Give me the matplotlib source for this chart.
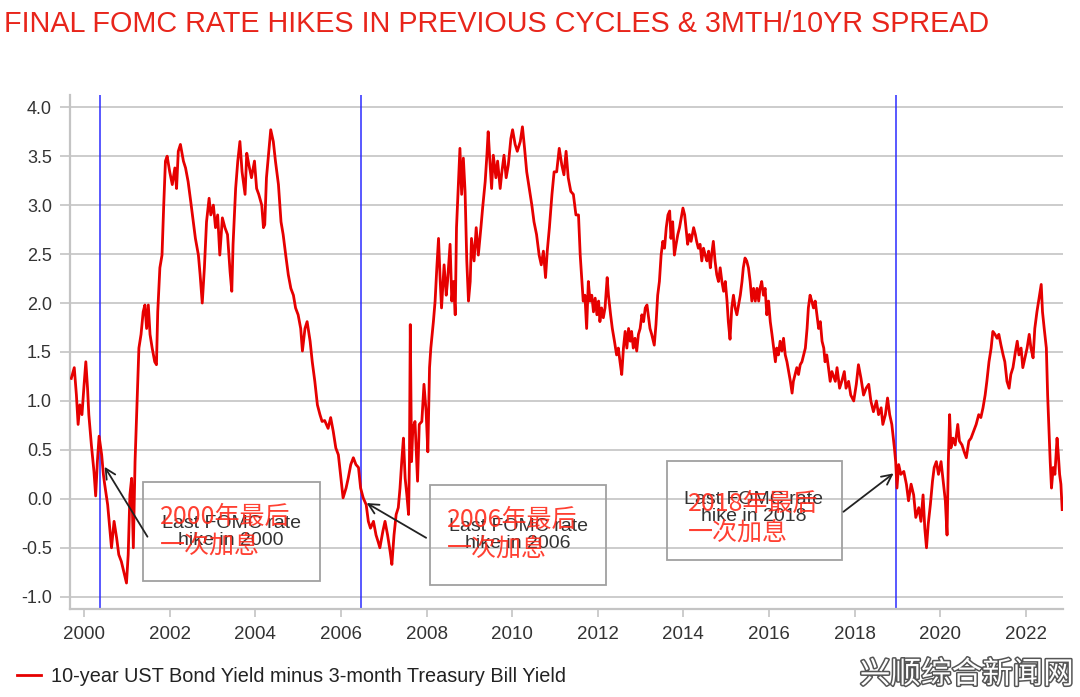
import matplotlib
matplotlib.use("Agg")
import matplotlib.pyplot as plt
import matplotlib.patheffects as pe
from matplotlib.patches import Rectangle
from matplotlib.ticker import FormatStrFormatter

plt.rcParams['font.family'] = ['Liberation Sans', 'DejaVu Sans']

# spread (10y minus 3m); x in decimal years
dates = [
    1999.70, 1999.77, 1999.82, 1999.86, 1999.90, 1999.95, 2000.00, 2000.04, 2000.08, 2000.11,
    2000.17, 2000.23, 2000.27, 2000.31, 2000.35, 2000.41, 2000.45, 2000.48, 2000.55, 2000.60,
    2000.64, 2000.70, 2000.76, 2000.81, 2000.87, 2000.94, 2000.99, 2001.03, 2001.07, 2001.11,
    2001.15, 2001.19, 2001.22, 2001.25, 2001.28, 2001.33, 2001.38, 2001.42, 2001.46, 2001.50,
    2001.54, 2001.59, 2001.65, 2001.69, 2001.72, 2001.77, 2001.82, 2001.86, 2001.90, 2001.94,
    2002.00, 2002.06, 2002.12, 2002.16, 2002.20, 2002.25, 2002.32, 2002.37, 2002.43, 2002.49,
    2002.55, 2002.60, 2002.67, 2002.71, 2002.76, 2002.81, 2002.86, 2002.92, 2002.96, 2003.02,
    2003.07, 2003.12, 2003.17, 2003.23, 2003.29, 2003.35, 2003.41, 2003.45, 2003.48, 2003.54,
    2003.59, 2003.64, 2003.69, 2003.76, 2003.80, 2003.85, 2003.91, 2003.98, 2004.03, 2004.08,
    2004.15, 2004.19, 2004.22, 2004.26, 2004.32, 2004.36, 2004.42, 2004.47, 2004.54, 2004.60,
    2004.65, 2004.71, 2004.77, 2004.83, 2004.89, 2004.94, 2005.00, 2005.06, 2005.10, 2005.16,
    2005.21, 2005.28, 2005.33, 2005.39, 2005.45, 2005.51, 2005.56, 2005.62,
    2005.70, 2005.76, 2005.82, 2005.88, 2005.94, 2005.99, 2006.05, 2006.12, 2006.17, 2006.23,
    2006.29, 2006.35, 2006.41, 2006.46, 2006.52, 2006.59, 2006.64, 2006.69, 2006.76, 2006.82,
    2006.87, 2006.91, 2006.98, 2007.03, 2007.09, 2007.15, 2007.19, 2007.24, 2007.29, 2007.34,
    2007.38, 2007.42, 2007.46, 2007.50, 2007.54, 2007.58, 2007.60, 2007.62, 2007.65, 2007.68,
    2007.73, 2007.79, 2007.83, 2007.89, 2007.94, 2007.99, 2008.03, 2008.07, 2008.10, 2008.16,
    2008.20, 2008.24, 2008.28, 2008.32, 2008.35, 2008.41, 2008.46, 2008.49, 2008.55, 2008.59,
    2008.63, 2008.67, 2008.70, 2008.75, 2008.78, 2008.82, 2008.86, 2008.90, 2008.94, 2008.98,
    2009.02, 2009.05, 2009.11, 2009.16, 2009.21, 2009.27, 2009.31, 2009.37, 2009.41, 2009.44,
    2009.48, 2009.52, 2009.56, 2009.62, 2009.66, 2009.72, 2009.76, 2009.81, 2009.86, 2009.91,
    2009.97, 2010.01, 2010.07, 2010.12, 2010.19, 2010.24, 2010.29, 2010.34, 2010.40, 2010.46,
    2010.51, 2010.57, 2010.63, 2010.68, 2010.73, 2010.78, 2010.82, 2010.87, 2010.93, 2010.98,
    2011.04, 2011.10, 2011.16, 2011.21, 2011.26, 2011.31, 2011.37, 2011.43, 2011.49,
    2011.55, 2011.59, 2011.63, 2011.66, 2011.70, 2011.74, 2011.78, 2011.82, 2011.86, 2011.90,
    2011.94, 2011.98, 2012.02, 2012.05, 2012.09, 2012.13, 2012.17, 2012.22, 2012.25, 2012.30,
    2012.34, 2012.39, 2012.44, 2012.48, 2012.52, 2012.56, 2012.60, 2012.64, 2012.68, 2012.72,
    2012.76, 2012.79, 2012.83, 2012.87, 2012.91, 2012.95, 2012.99, 2013.03, 2013.07, 2013.11,
    2013.15, 2013.18, 2013.22, 2013.26, 2013.32, 2013.36, 2013.40, 2013.44, 2013.48, 2013.52,
    2013.56, 2013.60, 2013.64, 2013.68, 2013.71, 2013.75, 2013.79, 2013.83, 2013.87, 2013.91,
    2013.95, 2013.99, 2014.03, 2014.06, 2014.10, 2014.14, 2014.18, 2014.24, 2014.28, 2014.31,
    2014.35, 2014.39, 2014.43, 2014.47, 2014.51, 2014.55, 2014.59, 2014.63, 2014.66, 2014.70,
    2014.74, 2014.78, 2014.82, 2014.86, 2014.90, 2014.94, 2014.98, 2015.02, 2015.05, 2015.09,
    2015.13, 2015.17, 2015.21, 2015.25, 2015.29, 2015.33, 2015.37, 2015.40, 2015.44, 2015.48,
    2015.52, 2015.56, 2015.60, 2015.64, 2015.68, 2015.72, 2015.76, 2015.79, 2015.83, 2015.87,
    2015.91, 2015.95, 2015.99, 2016.03, 2016.07, 2016.11, 2016.15, 2016.18, 2016.22, 2016.26,
    2016.30, 2016.34, 2016.38, 2016.42, 2016.46, 2016.50, 2016.54, 2016.57, 2016.61, 2016.65,
    2016.69, 2016.73, 2016.77, 2016.81, 2016.85, 2016.89, 2016.92, 2016.96, 2017.00, 2017.04,
    2017.08, 2017.12, 2017.16, 2017.20, 2017.24, 2017.28, 2017.31, 2017.35, 2017.39, 2017.43,
    2017.47, 2017.55, 2017.59, 2017.65, 2017.70, 2017.76, 2017.80, 2017.86, 2017.91, 2017.98,
    2018.04, 2018.09, 2018.15, 2018.21, 2018.27, 2018.33, 2018.38, 2018.44, 2018.51, 2018.56,
    2018.62, 2018.66, 2018.72, 2018.77, 2018.82, 2018.87, 2018.93, 2018.96, 2018.99, 2019.03,
    2019.08, 2019.15, 2019.21, 2019.26, 2019.32, 2019.38, 2019.43, 2019.50, 2019.55, 2019.60,
    2019.64, 2019.68, 2019.72, 2019.77, 2019.82, 2019.86, 2019.91, 2019.96, 2020.02, 2020.07,
    2020.12, 2020.16, 2020.19, 2020.22, 2020.25, 2020.30, 2020.35, 2020.41, 2020.45, 2020.51,
    2020.56, 2020.61, 2020.67, 2020.72, 2020.78, 2020.84, 2020.90, 2020.95, 2021.00, 2021.05,
    2021.09, 2021.14, 2021.19, 2021.23, 2021.28, 2021.33, 2021.37, 2021.42, 2021.47, 2021.51,
    2021.56, 2021.61, 2021.65, 2021.70, 2021.76, 2021.80, 2021.84, 2021.89, 2021.93, 2021.98,
    2022.03, 2022.08, 2022.12, 2022.17, 2022.21, 2022.26, 2022.31, 2022.36, 2022.39, 2022.43,
    2022.48, 2022.51, 2022.54, 2022.57, 2022.60, 2022.64, 2022.68, 2022.73, 2022.76, 2022.79,
    2022.82, 2022.85,
]
spread = [
    1.23, 1.34, 1.06, 0.76, 0.96, 0.86, 1.17, 1.40, 1.13, 0.86,
    0.55, 0.28, 0.03, 0.38, 0.64, 0.45, 0.25, 0.15, -0.06, -0.30,
    -0.50, -0.23, -0.40, -0.57, -0.64, -0.77, -0.86, -0.57, 0.04, 0.21,
    -0.50, 0.38, 0.76, 1.17, 1.54, 1.68, 1.91, 1.98, 1.74, 1.98,
    1.68, 1.54, 1.40, 1.37, 1.91, 2.36, 2.49, 3.00, 3.45, 3.50,
    3.34, 3.21, 3.38, 3.17, 3.55, 3.62, 3.45, 3.38, 3.24, 3.04,
    2.83, 2.66, 2.49, 2.29, 2.00, 2.36, 2.83, 3.07, 2.90, 3.00,
    2.77, 2.90, 2.49, 2.87, 2.77, 2.70, 2.32, 2.12, 2.60, 3.17,
    3.45, 3.65, 3.34, 3.11, 3.53, 3.41, 3.28, 3.45, 3.17, 3.11,
    3.00, 2.77, 2.80, 3.28, 3.58, 3.77, 3.65, 3.45, 3.21, 2.83,
    2.70, 2.49, 2.29, 2.15, 2.08, 1.95, 1.88, 1.74, 1.51, 1.74,
    1.81, 1.61, 1.40, 1.20, 0.96, 0.86, 0.79, 0.80,
    0.72, 0.83, 0.69, 0.52, 0.45, 0.25, 0.01, 0.11, 0.21, 0.35,
    0.42, 0.35, 0.32, 0.11, 0.01, -0.06, -0.23, -0.30, -0.23, -0.37,
    -0.44, -0.50, -0.33, -0.23, -0.37, -0.54, -0.67, -0.37, -0.16, -0.09,
    0.11, 0.38, 0.62, 0.21, 0.04, -0.16, 0.38, 1.78, 0.38, 0.72,
    0.79, 0.18, 0.76, 0.79, 1.17, 0.89, 0.48, 1.34, 1.54, 1.81,
    2.02, 2.36, 2.66, 2.22, 1.95, 2.39, 2.08, 2.22, 2.60, 2.02,
    2.22, 1.88, 2.77, 3.28, 3.58, 3.11, 3.48, 3.14, 2.43, 2.02,
    2.22, 2.66, 2.43, 2.77, 2.49, 2.77, 2.97, 3.24, 3.51, 3.75,
    3.45, 3.17, 3.51, 3.28, 3.45, 3.17, 3.34, 3.51, 3.28, 3.41,
    3.68, 3.77, 3.62, 3.55, 3.65, 3.80, 3.58, 3.34, 3.17, 3.00,
    2.83, 2.70, 2.49, 2.39, 2.53, 2.26, 2.53, 2.77, 3.11, 3.34,
    3.34, 3.58, 3.41, 3.31, 3.55, 3.28, 3.14, 3.11, 2.90,
    2.90, 2.49, 2.22, 2.02, 2.08, 1.74, 2.22, 2.02, 2.08, 1.91,
    2.05, 1.88, 2.02, 1.81, 1.95, 1.85, 1.95, 2.26, 2.08, 1.88,
    1.74, 1.61, 1.47, 1.54, 1.40, 1.27, 1.54, 1.71, 1.54, 1.74,
    1.61, 1.71, 1.54, 1.64, 1.51, 1.68, 1.74, 1.88, 1.81, 1.95,
    1.98, 1.88, 1.74, 1.68, 1.57, 1.78, 2.08, 2.22, 2.49, 2.63,
    2.56, 2.77, 2.90, 2.94, 2.66, 2.83, 2.49, 2.60, 2.70, 2.77,
    2.87, 2.97, 2.90, 2.77, 2.60, 2.70, 2.63, 2.77, 2.70, 2.63,
    2.56, 2.60, 2.43, 2.56, 2.49, 2.43, 2.53, 2.36, 2.49, 2.63,
    2.43, 2.29, 2.22, 2.36, 2.22, 2.12, 2.22, 2.02, 1.81, 1.63,
    1.95, 2.08, 1.95, 1.88, 1.98, 2.08, 2.22, 2.36, 2.46, 2.43,
    2.36, 2.22, 2.02, 2.15, 2.02, 2.15, 2.02, 2.15, 2.22, 2.08,
    2.15, 1.88, 2.02, 1.81, 1.68, 1.54, 1.40, 1.54, 1.47, 1.61,
    1.51, 1.64, 1.47, 1.40, 1.30, 1.20, 1.08, 1.20, 1.27, 1.34,
    1.27, 1.37, 1.40, 1.47, 1.54, 1.74, 1.95, 2.08, 2.02, 1.95,
    2.02, 1.88, 1.74, 1.81, 1.61, 1.54, 1.40, 1.47, 1.34, 1.20,
    1.30, 1.20, 1.34, 1.13, 1.20, 1.30, 1.13, 1.20, 1.06, 1.00,
    1.17, 1.37, 1.23, 1.06, 1.13, 1.17, 1.00, 0.89, 1.00, 0.86,
    0.93, 0.76, 0.86, 1.03, 0.86, 0.76, 0.52, 0.38, 0.11, 0.35,
    0.25, 0.28, 0.15, -0.02, 0.15, 0.04, -0.19, -0.09, -0.23, 0.04,
    -0.30, -0.50, -0.26, -0.06, 0.18, 0.32, 0.38, 0.25, 0.38, 0.18,
    -0.02, -0.37, 0.38, 0.86, 0.52, 0.62, 0.55, 0.76, 0.59, 0.55,
    0.48, 0.42, 0.59, 0.62, 0.69, 0.76, 0.86, 0.83, 0.93, 1.06,
    1.20, 1.40, 1.54, 1.71, 1.68, 1.64, 1.68, 1.57, 1.47, 1.40,
    1.20, 1.13, 1.27, 1.34, 1.51, 1.61, 1.47, 1.54, 1.34, 1.44,
    1.54, 1.68, 1.54, 1.44, 1.74, 1.91, 2.05, 2.19, 1.91, 1.74,
    1.54, 1.06, 0.72, 0.38, 0.11, 0.32, 0.25, 0.62, 0.45, 0.25,
    0.15, -0.11,
]

hike_dates = [2000.38, 2006.46, 2018.96]
hike_years = ['2000', '2006', '2018']
x_ticks = list(range(2000, 2023, 2))
y_ticks = [-1.0, -0.5, 0.0, 0.5, 1.0, 1.5, 2.0, 2.5, 3.0, 3.5, 4.0]

RED = '#e60000'
GRID = '#c4c4c4'

fig = plt.figure(figsize=(10.8, 6.97), dpi=100)
ax = fig.add_axes([0.0648, 0.1263, 0.9195, 0.7374])

line, = ax.plot(dates, spread, color=RED, lw=2.0, zorder=3,
                label='10-year UST Bond Yield minus 3-month Treasury Bill Yield')
for d in hike_dates:
    ax.axvline(d, color='#2b2bff', lw=1.1, zorder=2)

ax.set_xlim(1999.67, 2022.87)
ax.set_ylim(-1.125, 4.125)
ax.set_xticks(x_ticks)
ax.set_xticklabels([str(y) for y in x_ticks])
ax.set_yticks(y_ticks)
ax.yaxis.set_major_formatter(FormatStrFormatter('%.1f'))
ax.grid(axis='y', color=GRID, lw=1.2, zorder=0)
for s in ['top', 'right']:
    ax.spines[s].set_visible(False)
for s in ['left', 'bottom']:
    ax.spines[s].set_color(GRID)
    ax.spines[s].set_linewidth(1.6)
ax.tick_params(axis='y', length=7, width=1.2, color=GRID, pad=6,
               labelsize=13, labelcolor='#333333')
ax.tick_params(axis='x', length=6, width=1.2, color=GRID, pad=6,
               labelsize=13.5, labelcolor='#333333')

# annotation boxes: (left, bottom, right, top), english text centre, chinese text left/centre
boxes = [
    ((2001.365, -0.84, 2005.51, 0.174), (2003.435, -0.339), (2001.77, -0.33)),
    ((2008.08, -0.88, 2012.20, 0.14), (2010.14, -0.37), (2008.48, -0.36)),
    ((2013.62, -0.625, 2017.71, 0.385), (2015.65, -0.094), (2014.11, -0.196)),
]
arrows = [
    ((2001.48, -0.387), (2000.48, 0.327)),
    ((2007.99, -0.398), (2006.60, -0.043)),
    ((2017.74, -0.132), (2018.91, 0.26)),
]
for (b, en, zh), (tail, head), yr in zip(boxes, arrows, hike_years):
    ax.add_patch(Rectangle((b[0], b[1]), b[2] - b[0], b[3] - b[1], fill=False,
                           edgecolor='#a0a0a0', lw=1.3, zorder=4))
    ax.text(en[0], en[1], 'Last FOMC rate\nhike in ' + yr, ha='center', va='center',
            fontsize=14, color='#333333', linespacing=1.0, zorder=5)
    ax.text(zh[0], zh[1], yr + '年最后\n一次加息', ha='left', va='center',
            fontsize=18, color='#ff2b1c', alpha=0.9, linespacing=1.15,
            family=['Noto Sans CJK SC', 'DejaVu Sans'], zorder=6)
    ax.annotate('', xy=head, xytext=tail,
                arrowprops=dict(arrowstyle='->', color='#222222', lw=1.3,
                                mutation_scale=18, shrinkA=0, shrinkB=0), zorder=5)

fig.text(0.004, 0.965, 'FINAL FOMC RATE HIKES IN PREVIOUS CYCLES & 3MTH/10YR SPREAD',
         color='#e8251b', fontsize=20.7, ha='left', va='center')

fig.legend(handles=[line], loc='center left', bbox_to_anchor=(0.016, 0.029),
           frameon=False, fontsize=14.3, handlelength=1.2, handletextpad=0.5,
           borderaxespad=0, borderpad=0, labelcolor='#222222')

fig.text(0.895, 0.032, '兴顺综合新闻网', ha='center', va='center', fontsize=22,
         color='white', family=['Noto Sans CJK SC', 'DejaVu Sans'],
         path_effects=[pe.withStroke(linewidth=2.2, foreground='#555555')])

fig.savefig('out.png', dpi=100)
